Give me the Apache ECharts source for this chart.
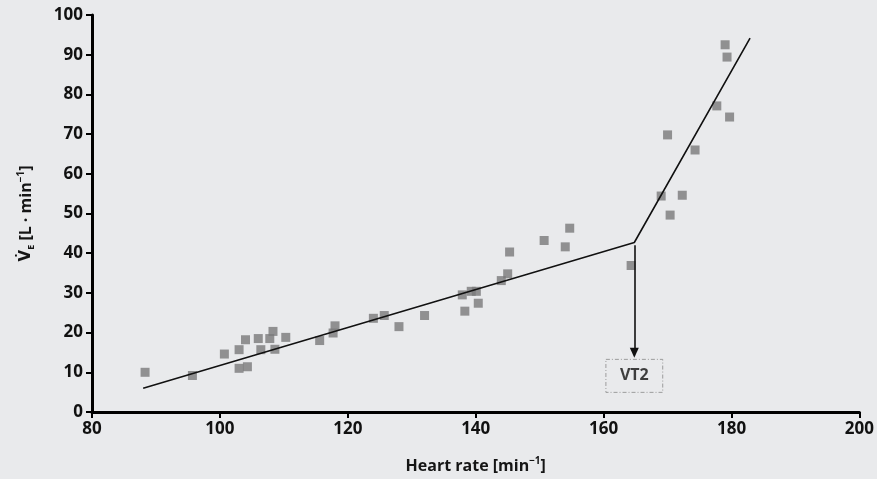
<!DOCTYPE html>
<html>
<head>
<meta charset="utf-8">
<script src="https://cdn.jsdelivr.net/npm/echarts@6/dist/echarts.min.js"></script>
<style>
  html, body { margin: 0; padding: 0; background: #e9eaec; }
  #chart { width: 877px; height: 479px; }
</style>
</head>
<body>
<div id="chart"></div>
<script>
// Measured points (heart rate / ventilation)
const heartRate = [ 88.3, 95.7, 100.7, 103.0, 104.0, 103.0, 104.3, 106.0, 106.4, 107.8, 108.3, 108.6, 110.3,
  115.6, 117.7, 118.0, 124.0, 125.7, 128.0, 132.0, 137.9, 138.3, 139.3, 140.1, 140.4, 144.0, 145.0, 145.3,
  150.7, 154.0, 154.7, 164.3, 169.0, 170.0, 170.4, 172.3, 174.3, 177.7, 179.0, 179.3, 179.7 ];
const ventilation = [ 10.0, 9.2, 14.6, 15.7, 18.2, 11.0, 11.4, 18.5, 15.7, 18.5, 20.3, 15.8, 18.8,
  18.0, 19.9, 21.7, 23.6, 24.3, 21.5, 24.3, 29.5, 25.4, 30.4, 30.4, 27.4, 33.1, 34.8, 40.3,
  43.2, 41.6, 46.3, 36.9, 54.4, 69.8, 49.6, 54.6, 66.0, 77.1, 92.5, 89.4, 74.3 ];

// Two-segment fit, break point = VT2
const fitHr = [ 88.0, 164.8, 182.9 ];
const fitVe = [ 6.0, 42.7, 94.2 ];

// VT2 arrow + label
const vt2Hr = 164.8;
const arrowFrom = 42.0;
const arrowTo = 14.9;
const labelVe = 9.1;

const xTicks = [ 80, 100, 120, 140, 160, 180, 200 ];
const yTicks = [ 0, 10, 20, 30, 40, 50, 60, 70, 80, 90, 100 ];

const points = heartRate.map( ( hr, i ) => [ hr, ventilation[ i ] ] );
const fitLine = fitHr.map( ( hr, i ) => [ hr, fitVe[ i ] ] );

const fontFamily = '"Open Sans", "Noto Sans", sans-serif';
const titleText = { fontSize: 16, fontWeight: 'bold', color: '#151515', fontFamily };
const myChart = echarts.init( document.getElementById( 'chart' ) );

myChart.setOption( {
  backgroundColor: '#e9eaec',
  animation: false,
  grid: { left: 92, right: 17, top: 15, bottom: 67 },
  xAxis: {
    type: 'value',
    min: xTicks[ 0 ],
    max: xTicks[ xTicks.length - 1 ],
    interval: 20,
    name: '{t|Heart rate [min}{sup|−1}{t|]}',
    nameLocation: 'middle',
    nameGap: 44,
    nameTextStyle: {
      rich: {
        t: titleText,
        sup: { ...titleText, fontSize: 10, verticalAlign: 'top', lineHeight: 20 }
      }
    },
    axisLine: { lineStyle: { color: '#000', width: 3 } },
    axisTick: { length: 6, lineStyle: { color: '#000', width: 2 } },
    axisLabel: { fontSize: 17, fontWeight: 'bold', color: '#111', fontFamily, margin: 9 },
    splitLine: { show: false }
  },
  yAxis: {
    type: 'value',
    min: yTicks[ 0 ],
    max: yTicks[ yTicks.length - 1 ],
    interval: 10,
    name: '{v|V\u0307}{sub|E}{t| [L · min}{sup|−1}{t|]}',
    nameLocation: 'middle',
    nameRotate: 90,
    nameGap: 56,
    nameTextStyle: {
      rich: {
        t: titleText,
        v: { ...titleText, fontFamily: '"DejaVu Sans", sans-serif', fontSize: 15 },
        sub: { ...titleText, fontSize: 9, verticalAlign: 'bottom', lineHeight: 20 },
        sup: { ...titleText, fontSize: 10, verticalAlign: 'top', lineHeight: 20 }
      }
    },
    axisLine: { show: true, lineStyle: { color: '#000', width: 3 } },
    axisTick: { show: true, length: 6, lineStyle: { color: '#000', width: 2 } },
    axisLabel: { fontSize: 17, fontWeight: 'bold', color: '#111', fontFamily, margin: 9 },
    splitLine: { show: false }
  },
  series: [
    {
      type: 'scatter',
      data: points,
      symbol: 'rect',
      symbolSize: 9,
      itemStyle: { color: '#79797b' },
      z: 2
    },
    {
      type: 'line',
      data: fitLine,
      symbol: 'none',
      lineStyle: { color: '#111', width: 1.6 },
      z: 3,
      markLine: {
        silent: true,
        symbol: [ 'none', 'triangle' ],
        symbolSize: [ 9, 10 ],
        label: { show: false },
        lineStyle: { color: '#111', width: 1.6, type: 'solid' },
        data: [ [ { coord: [ vt2Hr, arrowFrom ] }, { coord: [ vt2Hr, arrowTo ] } ] ]
      }
    },
    {
      // VT2 label box
      type: 'scatter',
      data: [ [ vt2Hr, labelVe ] ],
      symbolSize: 0,
      silent: true,
      label: {
        show: true,
        position: 'inside',
        formatter: 'VT2',
        fontSize: 16,
        fontWeight: 'bold',
        color: '#111',
        fontFamily,
        padding: [ 9, 14, 8, 14 ],
        borderColor: '#8a8a8a',
        borderWidth: 1,
        borderType: [ 4, 2, 1, 2 ]
      }
    }
  ]
} );
</script>
</body>
</html>
